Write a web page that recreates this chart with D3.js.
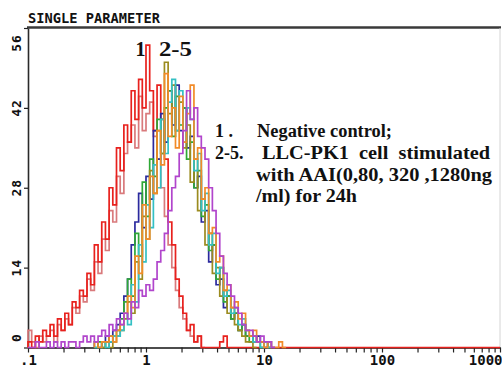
<!DOCTYPE html>
<html>
<head>
<meta charset="utf-8">
<script src="https://cdn.jsdelivr.net/npm/d3@7"></script>
<style>
  html, body { margin: 0; padding: 0; background: #fff; }
  svg { display: block; }
</style>
</head>
<body>
<svg id="chart" width="502" height="374"></svg>
<script>
// ---------- data ----------
const title = "SINGLE PARAMETER";
const xDomain = [0.1, 1000];
const xTickLabels = [".1", "1", "10", "100", "1000"];
const yTicks = [0, 14, 28, 42, 56];
const yTickLabels = ["0", "14", "28", "42", "56"];
const channelsPerDecade = 32;

const peakLabels = ["1", "2-5"];
const legendLines = [
  ["1 .", "Negative control;"],
  ["2-5.", "LLC-PK1  cell  stimulated"],
  ["", "with AAI(0,80, 320 ,1280ng"],
  ["", "/ml) for 24h"]
];

// counts per channel, starting at channel index `start`
const seriesNames = ["rose", "red", "blue", "green", "olive", "cyan", "orange", "purple"];
const seriesColors = ["#d97a7c", "#e8211d", "#2b2a9e", "#2fa836", "#9b8b1f", "#34c0c4", "#f28b28", "#b145cc"];
const seriesStart = [0, 0, 18, 18, 20, 18, 18, 0];

const roseCounts = [3,1,0,2,1,2,3,1,4,3,5,4,7,6,9,8,12,10,15,13,19,17,24,22,30,27,34,36,39,35,44,38,41,43,37,33,28,23,18,14,10,7,5,3,2,1,2,0];
const redCounts = [1,0,2,1,3,2,4,2,5,3,6,4,8,7,10,9,13,11,18,15,22,19,28,25,35,31,39,36,45,40,47,42,53,45,38,46,40,33,22,18,12,9,6,3,4,1,2,0,0,0,0,0,1,2,0];
const blueCounts = [1,0,1,2,1,3,4,6,9,12,18,22,27,21,30,26,38,33,41,36,45,39,46,38,42,35,37,28,30,22,24,15,18,11,12,7,9,5,6,3,4,2,2,1,2,1,0,1,0];
const greenCounts = [0,1,0,1,2,2,3,5,8,12,9,20,16,29,23,33,30,40,34,42,45,37,44,39,42,33,36,28,31,23,25,17,18,12,14,8,9,5,6,3,4,2,1,2,1,0,1,0];
const oliveCounts = [0,1,0,1,2,3,5,8,6,15,12,23,19,31,27,38,34,50,41,46,38,43,35,39,29,33,24,26,18,20,13,14,9,10,6,7,4,3,2,1,1,0];
const cyanCounts = [0,0,1,0,1,2,2,3,6,4,11,8,18,15,25,21,32,28,40,34,43,47,38,45,36,42,40,31,34,24,27,18,20,13,14,9,10,6,7,4,5,3,2,1,1,0,1,0];
const orangeCounts = [1,0,1,1,2,1,3,4,6,9,7,16,13,25,19,30,27,38,32,48,37,42,35,44,36,41,46,33,35,26,28,20,21,15,16,10,11,7,8,5,6,3,2,3,1,1,0,1,0,0,1,0];
const purpleCounts = [0,0,1,0,0,1,0,1,0,1,0,1,1,0,1,2,1,2,1,2,3,2,4,3,5,4,6,5,8,7,10,9,11,10,12,15,17,20,24,28,30,34,38,45,40,42,37,35,33,28,24,20,16,13,11,9,7,6,4,3,3,2,1,2,1,1,0];

const seriesCounts = [roseCounts, redCounts, blueCounts, greenCounts, oliveCounts, cyanCounts, orangeCounts, purpleCounts];
const extendToEnd = [false, true, false, false, false, false, false, false];

// ---------- drawing ----------
const svg = d3.select("#chart");
const mLeft = 28, mRight = 500, mTop = 28, mBottom = 347.5;

const x = d3.scaleLog().domain(xDomain).range([mLeft, mRight]);
const y = d3.scaleLinear().domain([0, 56]).range([mBottom, mTop]);
const edge = i => xDomain[0] * Math.pow(10, i / channelsPerDecade);

const mono = "'DejaVu Sans Mono', 'Liberation Mono', monospace";
const serif = "'Liberation Serif', 'Times New Roman', serif";

// title
svg.append("text")
  .attr("x", mLeft).attr("y", 23)
  .attr("font-family", mono).attr("font-weight", "bold").attr("font-size", 13.5)
  .attr("textLength", 132).attr("lengthAdjust", "spacingAndGlyphs")
  .attr("fill", "#111")
  .text(title);

// frame: top line, faint right line
svg.append("line").attr("x1", mLeft - 1).attr("x2", mRight + 1)
  .attr("y1", mTop - 0.5).attr("y2", mTop - 0.5)
  .attr("stroke", "#3a3a3a").attr("stroke-width", 2.6);
svg.append("line").attr("x1", mRight).attr("x2", mRight)
  .attr("y1", mTop).attr("y2", mBottom)
  .attr("stroke", "#d4d4d4").attr("stroke-width", 1);

// x axis
const minorVals = [];
for (let d = -1; d < 3; d++) for (let m = 1; m < 10; m++) minorVals.push(m * Math.pow(10, d));
minorVals.push(1000);
const decades = [0.1, 1, 10, 100, 1000];
const xAxis = d3.axisBottom(x)
  .tickValues(minorVals)
  .tickSize(5).tickSizeOuter(0).tickPadding(3)
  .tickFormat(v => {
    const k = decades.findIndex(d => Math.abs(d - v) / d < 1e-9);
    return k >= 0 ? xTickLabels[k] : "";
  });
const gx = svg.append("g").attr("transform", `translate(0,${mBottom})`).call(xAxis);
gx.select(".domain").attr("stroke", "#111").attr("stroke-width", 1.6);
gx.selectAll(".tick line").attr("stroke", "#222").attr("stroke-width", 1.2);
gx.selectAll(".tick text")
  .attr("font-family", mono).attr("font-weight", "bold").attr("font-size", 14)
  .attr("fill", "#111");
// last label sits at the window edge; keep it inside
gx.selectAll(".tick text").filter(v => Math.abs(v - 1000) < 1e-6)
  .attr("text-anchor", "end").attr("dx", 2);

// y axis
const yAxis = d3.axisLeft(y).tickValues(yTicks).tickSize(4).tickSizeOuter(0).tickFormat("");
const gy = svg.append("g").attr("transform", `translate(${mLeft},0)`).call(yAxis);
gy.select(".domain").attr("stroke", "#2a2a2a").attr("stroke-width", 1.6);
gy.selectAll(".tick line").attr("stroke", "#222").attr("stroke-width", 1.2);
yTicks.forEach((t, i) => {
  const yy = Math.min(Math.max(y(t), y(56) + 15), y(0) - 10);
  svg.append("text")
    .attr("transform", `translate(20.5,${yy}) rotate(-90)`)
    .attr("text-anchor", "middle")
    .attr("font-family", mono).attr("font-weight", "bold").attr("font-size", 13)
    .attr("letter-spacing", 1)
    .attr("fill", "#111")
    .text(yTickLabels[i]);
});

// histograms
const line = d3.line().x(d => x(d[0])).y(d => y(d[1])).curve(d3.curveStepAfter);
seriesCounts.forEach((counts, s) => {
  const st = seriesStart[s];
  const pts = [[edge(st), 0]];
  counts.forEach((c, k) => pts.push([edge(st + k), c]));
  const endEdge = edge(st + counts.length);
  pts.push([endEdge, 0]);
  if (extendToEnd[s]) pts.push([xDomain[1], 0]);
  svg.append("path")
    .attr("d", line(pts))
    .attr("fill", "none")
    .attr("stroke", seriesColors[s])
    .attr("stroke-width", 1.7)
    .attr("stroke-linejoin", "miter");
});

// peak labels
svg.append("text").attr("x", 135.5).attr("y", 56)
  .attr("font-family", serif).attr("font-weight", "bold").attr("font-size", 20)
  .attr("fill", "#111").text(peakLabels[0]);
svg.append("text").attr("x", 159).attr("y", 56)
  .attr("font-family", serif).attr("font-weight", "bold").attr("font-size", 20)
  .attr("textLength", 33).attr("lengthAdjust", "spacingAndGlyphs")
  .attr("fill", "#111").text(peakLabels[1]);

// legend text
const legY = [136.5, 159, 181, 202];
const legX2 = [257, 262, 256, 256];
const legW2 = [135, 228, 236, 101];
legendLines.forEach((ln, i) => {
  if (ln[0]) {
    svg.append("text").attr("x", 215).attr("y", legY[i])
      .attr("font-family", serif).attr("font-weight", "bold").attr("font-size", 18)
      .attr("fill", "#111").style("white-space", "pre")
      .text(ln[0]);
  }
  svg.append("text").attr("x", legX2[i]).attr("y", legY[i])
    .attr("font-family", serif).attr("font-weight", "bold").attr("font-size", 18)
    .attr("textLength", legW2[i]).attr("lengthAdjust", "spacingAndGlyphs")
    .attr("fill", "#111").style("white-space", "pre")
    .text(ln[1]);
});
</script>
</body>
</html>
